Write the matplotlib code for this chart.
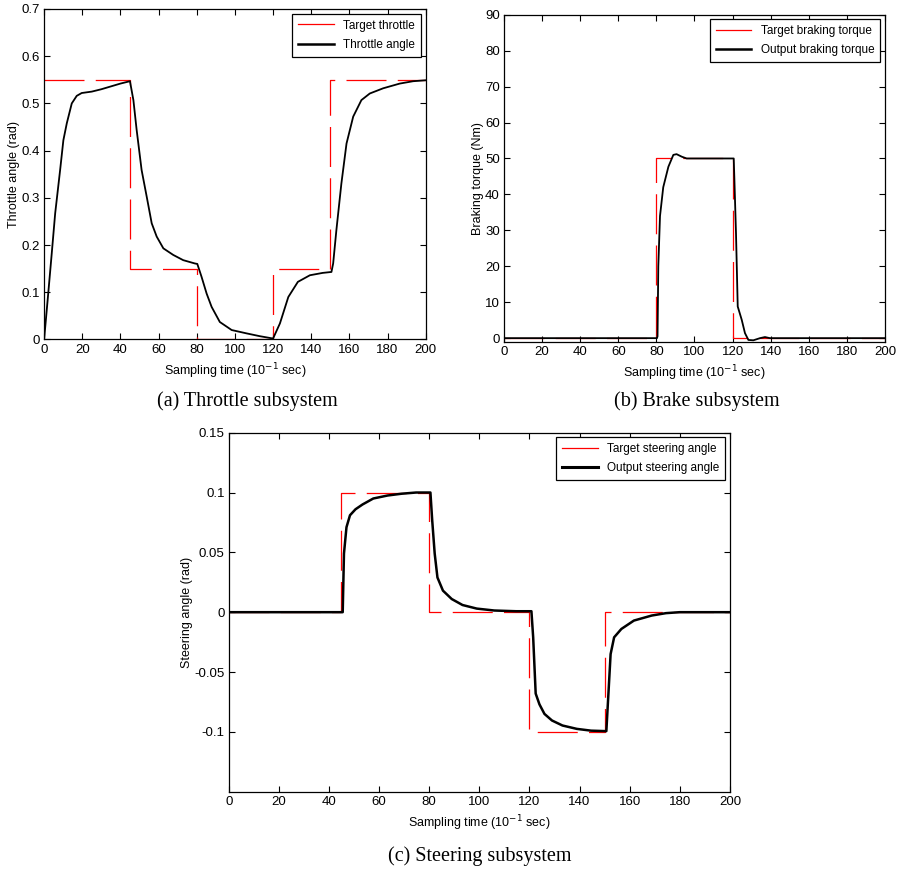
import matplotlib
matplotlib.use("Agg")
import matplotlib.pyplot as plt
from matplotlib.lines import Line2D
from matplotlib.ticker import FormatStrFormatter

plt.rcParams['font.family'] = ['Liberation Sans', 'DejaVu Sans']
plt.rcParams['axes.unicode_minus'] = False

# (a) throttle subsystem
thr_target_t = [0, 45, 45, 80, 80, 120, 120, 150, 150, 200]
thr_target_v = [0.55, 0.55, 0.15, 0.15, 0, 0, 0.15, 0.15, 0.55, 0.55]
thr_t = [0, 2, 4, 5.8, 8.4, 10.1, 11.9, 14.5, 17.1, 19.7, 25, 30, 35, 40, 45,
         46.8, 48.5, 51.1, 53.8, 56.4, 59, 62.5, 67.7, 72.9, 79, 80.3, 82.5,
         85.2, 87.8, 92.1, 98.3, 106, 113, 120, 123.6, 128, 133, 139.3, 146,
         150.6, 151.5, 153.2, 155.8, 158.5, 162, 166.3, 170.7, 177.7, 186.4,
         193.4, 200]
thr_v = [0, 0.09, 0.182, 0.267, 0.359, 0.422, 0.458, 0.5, 0.516, 0.522, 0.525,
         0.53, 0.536, 0.542, 0.547, 0.507, 0.444, 0.359, 0.302, 0.246, 0.218,
         0.193, 0.179, 0.168, 0.161, 0.16, 0.133, 0.097, 0.069, 0.037, 0.02,
         0.013, 0.007, 0.002, 0.034, 0.09, 0.122, 0.136, 0.141, 0.143, 0.161,
         0.232, 0.33, 0.415, 0.472, 0.507, 0.521, 0.532, 0.542, 0.547, 0.549]

# (b) brake subsystem
brk_target_t = [0, 80, 80, 120, 120, 200]
brk_target_v = [0, 0, 50, 50, 0, 0]
brk_t = [0, 80.3, 80.6, 81, 81.9, 83.6, 86.3, 88.9, 90.6, 93.3, 95.9, 120.6,
         120.9, 121.8, 122.7, 124.8, 126.5, 128.3, 130.9, 134.4, 137, 139.6, 200]
brk_v = [0, 0, 0.5, 20, 34, 42, 47.7, 51, 51.2, 50.5, 50, 50, 45, 29, 8.8, 5.1,
         1.4, -0.5, -0.6, 0, 0.3, 0, 0]

# (c) steering subsystem
str_target_t = [0, 45, 45, 80, 80, 120, 120, 150, 150, 200]
str_target_v = [0, 0, 0.1, 0.1, 0, 0, -0.1, -0.1, 0, 0]
str_t = [0, 45.5, 46, 47, 48.4, 50.6, 53.4, 57.7, 63.4, 69, 74.8, 80.5, 81.2,
         82.2, 83.3, 85.5, 89, 93.3, 99, 106, 114.7, 120.8, 121.5, 122.5, 124,
         126, 129, 133.2, 138.9, 144.6, 150.7, 151.3, 152.4, 153.8, 156.7,
         161.7, 168.8, 174.5, 180, 200]
str_v = [0, 0, 0.049, 0.071, 0.081, 0.086, 0.09, 0.095, 0.0975, 0.099, 0.1,
         0.1, 0.077, 0.049, 0.029, 0.018, 0.011, 0.006, 0.003, 0.0014, 0.0008,
         0.0008, -0.021, -0.068, -0.077, -0.085, -0.0905, -0.0947, -0.0975,
         -0.099, -0.0994, -0.0766, -0.035, -0.021, -0.014, -0.007, -0.0028,
         -0.0008, 0, 0]

xticks = list(range(0, 201, 20))


def style(ax):
    ax.tick_params(direction='in', top=True, right=True, labelsize=9.5,
                   length=4, width=0.8, pad=3)
    for s in ax.spines.values():
        s.set_linewidth(0.9)
    ax.set_xlim(0, 200)
    ax.set_xticks(xticks)
    ax.set_xlabel('Sampling time (10$^{-1}$ sec)', fontsize=9, labelpad=4)


def legend(ax, labels, lw):
    h = [Line2D([], [], color='red', lw=0.9),
         Line2D([], [], color='black', lw=lw)]
    lg = ax.legend(h, labels, loc='upper right', fontsize=8.5, fancybox=False,
                   framealpha=1, edgecolor='black', handlelength=3.0,
                   borderaxespad=0.4, borderpad=0.5, labelspacing=0.6)
    lg.get_frame().set_linewidth(0.9)


fig = plt.figure(figsize=(9, 8.72), dpi=100)

ax1 = fig.add_axes([0.049, 0.6107, 0.424, 0.379])
ax1.plot(thr_target_t, thr_target_v, color='red', lw=0.9, dashes=(32, 9))
ax1.plot(thr_t, thr_v, color='black', lw=1.3)
style(ax1)
ax1.set_ylim(0, 0.7)
ax1.yaxis.set_major_formatter(FormatStrFormatter('%g'))
ax1.set_ylabel('Throttle angle (rad)', fontsize=9, labelpad=1)
legend(ax1, ['Target throttle', 'Throttle angle'], 1.8)

ax2 = fig.add_axes([0.56, 0.6081, 0.4233, 0.375])
ax2.plot(brk_target_t, brk_target_v, color='red', lw=0.9, dashes=(32, 9))
ax2.plot(brk_t, brk_v, color='black', lw=1.3)
style(ax2)
ax2.set_ylim(-1, 90)
ax2.set_yticks(range(0, 91, 10))
ax2.set_ylabel('Braking torque (Nm)', fontsize=9, labelpad=1)
legend(ax2, ['Target braking torque', 'Output braking torque'], 1.8)

ax3 = fig.add_axes([0.2541, 0.0921, 0.5569, 0.4117])
ax3.plot(str_target_t, str_target_v, color='red', lw=0.9, dashes=(32, 9))
ax3.plot(str_t, str_v, color='black', lw=1.8)
style(ax3)
ax3.set_ylim(-0.15, 0.15)
ax3.set_yticks([-0.1, -0.05, 0, 0.05, 0.1, 0.15])
ax3.yaxis.set_major_formatter(FormatStrFormatter('%g'))
ax3.set_ylabel('Steering angle (rad)', fontsize=9, labelpad=1)
legend(ax3, ['Target steering angle', 'Output steering angle'], 2.2)

cap = dict(family=['Liberation Serif', 'DejaVu Serif'], fontsize=14.5,
           ha='center', va='center')
fig.text(247 / 900, 1 - 401 / 872, '(a) Throttle subsystem', **cap)
fig.text(697 / 900, 1 - 401 / 872, '(b) Brake subsystem', **cap)
fig.text(480 / 900, 1 - 856 / 872, '(c) Steering subsystem', **cap)

fig.savefig('out.png', dpi=100)
